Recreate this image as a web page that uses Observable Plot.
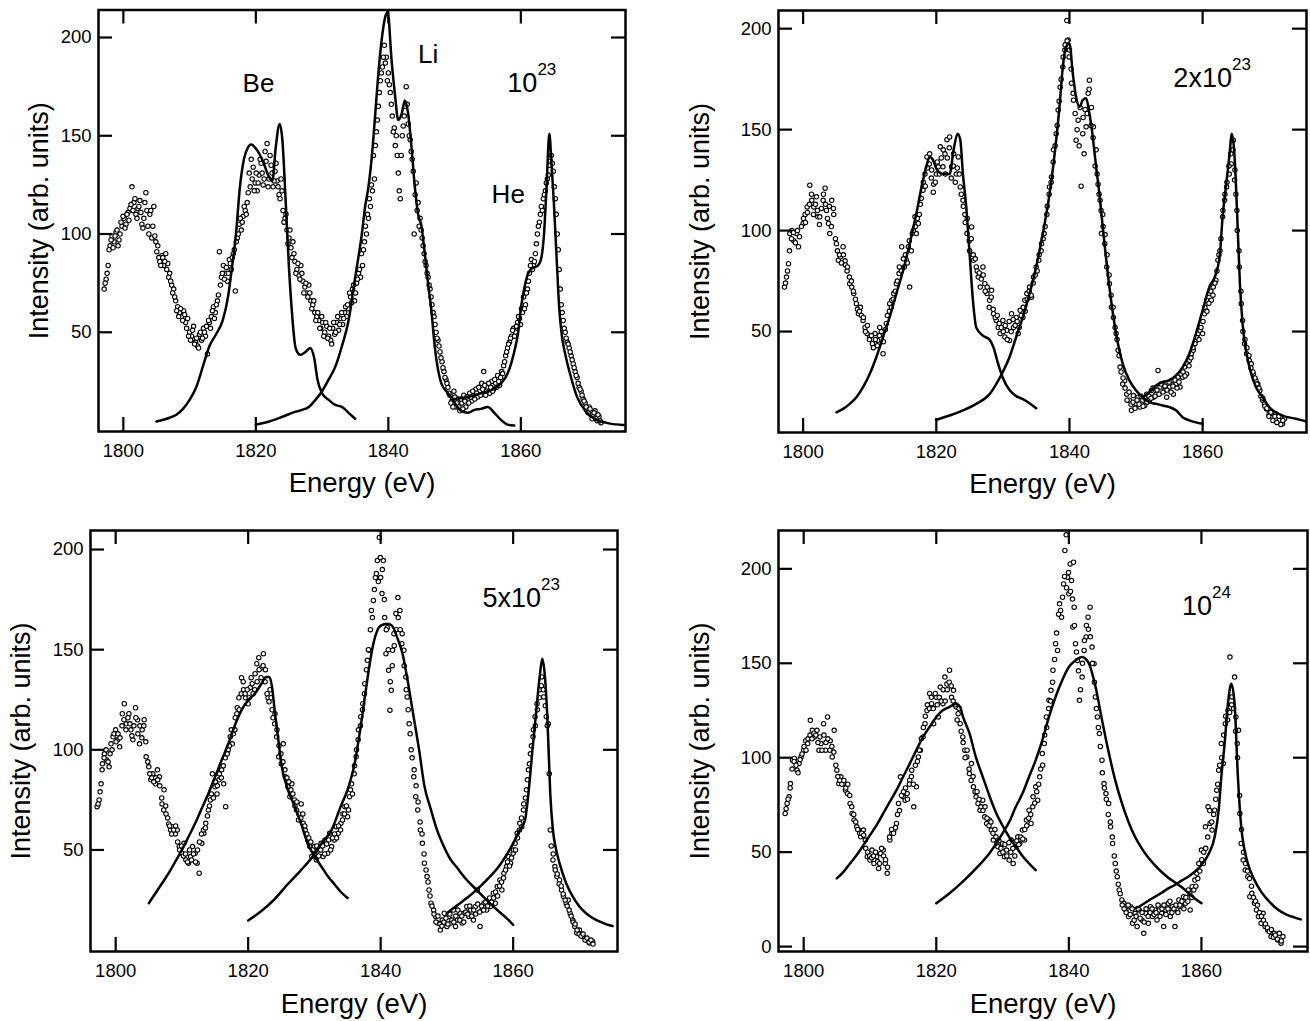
<!DOCTYPE html>
<html><head><meta charset="utf-8">
<script src="https://cdn.jsdelivr.net/npm/d3@7"></script>
<script src="https://cdn.jsdelivr.net/npm/@observablehq/plot@0.6"></script>
<style>
body{margin:0;background:#fff}
#c{position:relative;width:1310px;height:1021px;background:#fff}
.p{position:absolute}
</style>
</head><body><div id="c"></div>
<script>
// ---------- data ----------
const xTicks = [1800, 1820, 1840, 1860];
const yTicks = [50, 100, 150, 200];
const yTicks24 = [0, 50, 100, 150, 200];
const xLabel = "Energy (eV)";
const yLabel = "Intensity (arb. units)";
const ionLabels = ["Be", "Li", "He"];
const densityBase = ["10", "2x10", "5x10", "10"];
const densityExp = ["23", "23", "23", "24"];

// panel 1e23: measured points [energy, intensity]
const dots1 = [[1797.1,72],[1797.4,77],[1797.7,84],[1798,94],[1798.3,99],[1798.6,96],[1798.9,101],[1799.2,94],[1799.5,100],[1799.8,104],[1800.1,108],[1800.4,105],[1800.7,111],[1801,113],[1801.3,124],[1801.6,116],[1801.9,110],[1802.2,113],[1802.5,117],[1802.8,105],[1803.1,108],[1803.4,121],[1803.7,104],[1804,110],[1804.3,98],[1804.6,114],[1804.9,96],[1805.2,94],[1805.5,86],[1805.8,89],[1806.1,84],[1806.4,90],[1806.7,85],[1807,80],[1807.3,74],[1807.6,72],[1807.9,66],[1808.2,63],[1808.5,60],[1808.8,58],[1809.1,61],[1809.4,55],[1809.7,57],[1810,50],[1810.3,48],[1810.6,53],[1810.9,45],[1811.2,43],[1811.5,49],[1811.8,46],[1812.1,52],[1812.4,48],[1812.7,39],[1813,55],[1813.3,58],[1813.6,63],[1813.9,60],[1814.2,66],[1814.5,91],[1814.8,78],[1815.1,84],[1815.4,80],[1815.7,76],[1816,87],[1816.3,82],[1816.6,90],[1816.9,71],[1817.2,98],[1817.5,105],[1817.8,102],[1818.1,109],[1818.4,112],[1818.7,116],[1819,131],[1819.3,138],[1819.6,134],[1819.9,126],[1820.2,122],[1820.5,130],[1820.8,136],[1821.1,125],[1821.4,142],[1821.7,146],[1822,128],[1822.3,135],[1822.6,124],[1822.9,132],[1823.2,127],[1823.5,120],[1823.8,128],[1824.1,112],[1824.4,108],[1824.7,102],[1825,98],[1825.3,93],[1825.6,96],[1825.9,86],[1826.2,82],[1826.5,79],[1826.8,84],[1827.1,76],[1827.4,73],[1827.7,70],[1828,74],[1828.3,66],[1828.6,64],[1828.9,60],[1829.2,58],[1829.5,56],[1829.8,52],[1830.1,55],[1830.4,50],[1830.7,53],[1831,48],[1831.3,46],[1831.6,52],[1831.9,49],[1832.2,55],[1832.5,51],[1832.8,57],[1833.1,54],[1833.4,60],[1833.7,58],[1834,62],[1834.3,68],[1834.6,72],[1834.9,66],[1835.2,75],[1835.5,80],[1835.8,78],[1836.1,84],[1836.4,96],[1836.7,100],[1837,108],[1837.3,114],[1837.6,122],[1837.9,128],[1838.2,152],[1838.5,165],[1838.8,178],[1839.1,185],[1839.4,196],[1839.7,190],[1840,182],[1840.3,172],[1840.6,160],[1840.9,154],[1841.2,150],[1841.5,131],[1841.8,118],[1842.1,150],[1842.4,160],[1842.7,175],[1843,156],[1843.3,148],[1843.6,138],[1843.9,100],[1844.2,126],[1844.5,116],[1844.8,108],[1845.1,98],[1845.4,90],[1845.7,84],[1846,78],[1846.3,72],[1846.6,64],[1846.9,58],[1847.2,50],[1847.5,46],[1847.8,40],[1848.1,35],[1848.4,30],[1848.7,26],[1849,22],[1849.3,18],[1849.6,15],[1849.9,20],[1850.2,12],[1850.5,16],[1850.8,10],[1851.1,14],[1851.4,18],[1851.7,12],[1852,16],[1852.3,19],[1852.6,15],[1852.9,18],[1853.2,21],[1853.5,17],[1853.8,20],[1854.1,24],[1854.4,30],[1854.7,18],[1855,22],[1855.3,19],[1855.6,25],[1855.9,21],[1856.2,24],[1856.5,28],[1856.8,23],[1857.1,30],[1857.4,33],[1857.7,38],[1858,42],[1858.3,45],[1858.6,48],[1858.9,52],[1859.2,50],[1859.5,55],[1859.8,57],[1860.1,62],[1860.4,68],[1860.7,64],[1861,72],[1861.3,80],[1861.6,87],[1861.9,84],[1862.2,90],[1862.5,100],[1862.8,106],[1863.1,114],[1863.4,118],[1863.7,122],[1864,128],[1864.3,135],[1864.6,140],[1864.9,132],[1865.2,118],[1865.5,100],[1865.8,82],[1866.1,64],[1866.4,56],[1866.7,50],[1867,45],[1867.3,42],[1867.6,38],[1867.9,34],[1868.2,30],[1868.5,27],[1868.8,22],[1869.1,20],[1869.4,16],[1869.7,14],[1870,10],[1870.3,12],[1870.6,8],[1870.9,7],[1871.2,10],[1871.5,5],[1871.8,7],[1872.1,4]];
const dots1b = [[1797.25,75],[1797.55,80],[1797.85,92],[1798.15,97],[1798.45,93],[1798.75,99],[1799.05,102],[1799.35,97],[1799.65,106],[1799.95,109],[1800.25,103],[1800.55,110],[1800.85,107],[1801.15,115],[1801.45,112],[1801.75,118],[1802.05,108],[1802.35,114],[1802.65,111],[1802.95,103],[1803.25,116],[1803.55,112],[1803.85,100],[1804.15,112],[1804.45,104],[1804.75,99],[1805.05,91],[1805.35,88],[1805.65,84],[1805.95,88],[1806.25,86],[1806.55,82],[1806.85,78],[1807.15,76],[1807.45,70],[1807.75,68],[1808.05,61],[1808.35,58],[1808.65,62],[1808.95,56],[1809.25,59],[1809.55,52],[1809.85,48],[1810.15,46],[1810.45,51],[1810.75,44],[1811.05,47],[1811.35,42],[1811.65,50],[1811.95,47],[1812.25,50],[1812.55,53],[1812.85,56],[1813.15,52],[1813.45,61],[1813.75,57],[1814.05,64],[1814.35,69],[1814.65,74],[1814.95,80],[1815.25,77],[1815.55,83],[1815.85,80],[1816.15,85],[1816.45,88],[1816.75,92],[1817.05,96],[1817.35,100],[1817.65,108],[1817.95,106],[1818.25,114],[1818.55,110],[1818.85,121],[1819.15,124],[1819.45,128],[1819.75,122],[1820.05,131],[1820.35,126],[1820.65,138],[1820.95,131],[1821.25,128],[1821.55,137],[1821.85,124],[1822.15,140],[1822.45,131],[1822.75,127],[1823.05,136],[1823.35,124],[1823.65,118],[1823.95,122],[1824.25,106],[1824.55,110],[1824.85,95],[1825.15,102],[1825.45,88],[1825.75,90],[1826.05,80],[1826.35,85],[1826.65,77],[1826.95,80],[1827.25,70],[1827.55,75],[1827.85,68],[1828.15,70],[1828.45,62],[1828.75,66],[1829.05,56],[1829.35,60],[1829.65,52],[1829.95,58],[1830.25,48],[1830.55,55],[1830.85,47],[1831.15,52],[1831.45,44],[1831.75,55],[1832.05,50],[1832.35,58],[1832.65,54],[1832.95,60],[1833.25,57],[1833.55,63],[1833.85,64],[1834.15,70],[1834.45,65],[1834.75,74],[1835.05,70],[1835.35,77],[1835.65,82],[1835.95,90],[1836.25,92],[1836.55,104],[1836.85,110],[1837.15,118],[1837.45,125],[1837.75,140],[1838.05,145],[1838.35,158],[1838.65,172],[1838.95,182],[1839.25,190],[1839.55,187],[1839.85,178],[1840.15,176],[1840.45,166],[1840.75,152],[1841.05,145],[1841.35,140],[1841.65,122],[1841.95,140],[1842.25,155],[1842.55,165],[1842.85,166],[1843.15,150],[1843.45,142],[1843.75,132],[1844.05,120],[1844.35,112],[1844.65,104],[1844.95,102],[1845.25,94],[1845.55,86],[1845.85,80],[1846.15,74],[1846.45,68],[1846.75,60],[1847.05,54],[1847.35,47],[1847.65,43],[1847.95,37],[1848.25,32],[1848.55,27],[1848.85,24],[1849.15,19],[1849.45,14],[1849.75,12],[1850.05,17],[1850.35,14],[1850.65,12],[1850.95,16],[1851.25,11],[1851.55,15],[1851.85,17],[1852.15,14],[1852.45,17],[1852.75,20],[1853.05,16],[1853.35,19],[1853.65,22],[1853.95,18],[1854.25,21],[1854.55,23],[1854.85,20],[1855.15,24],[1855.45,22],[1855.75,20],[1856.05,26],[1856.35,22],[1856.65,25],[1856.95,27],[1857.25,29],[1857.55,35],[1857.85,40],[1858.15,44],[1858.45,47],[1858.75,51],[1859.05,48],[1859.35,53],[1859.65,58],[1859.95,54],[1860.25,60],[1860.55,62],[1860.85,70],[1861.15,76],[1861.45,84],[1861.75,82],[1862.05,86],[1862.35,95],[1862.65,104],[1862.95,110],[1863.25,112],[1863.55,120],[1863.85,126],[1864.15,130],[1864.45,137],[1864.75,136],[1865.05,124],[1865.35,110],[1865.65,92],[1865.95,72],[1866.25,60],[1866.55,52],[1866.85,47],[1867.15,44],[1867.45,40],[1867.75,36],[1868.05,32],[1868.35,28],[1868.65,24],[1868.95,21],[1869.25,18],[1869.55,15],[1869.85,12],[1870.15,9],[1870.45,11],[1870.75,6],[1871.05,9],[1871.35,6],[1871.65,8],[1871.95,5]];
const be1 = [[1805,4.6],[1807,6.5],[1808,8],[1809,11],[1810,15.6],[1811,22],[1812,32.5],[1813,43],[1814,49],[1815,56],[1815.8,68],[1816.4,83],[1817,100],[1817.6,124],[1818.2,138],[1818.8,144],[1819.3,145.5],[1820,143.5],[1821,137.6],[1822,129],[1822.5,127],[1823,144],[1823.6,156],[1824,148],[1824.5,117],[1825,83],[1825.5,58],[1826,42],[1826.7,38.5],[1827.5,40],[1828.2,42],[1828.8,37],[1829.3,26],[1830,19],[1831,15.6],[1832,13],[1833,12],[1834,9],[1835,6]];
const li1 = [[1820,3],[1822,4.6],[1824,7],[1826,9.6],[1827,10.5],[1828,12],[1829,15.6],[1830,20],[1831,26],[1832,32.5],[1833,43],[1834,56],[1835,78],[1836,100],[1836.5,114],[1837,124],[1837.5,139],[1838,160],[1838.5,182],[1839,199],[1839.5,210],[1839.9,213],[1840.5,188],[1841,171],[1841.5,158],[1842,161],[1842.5,168],[1843,161],[1843.5,144],[1844,124],[1844.5,110],[1845,104],[1845.5,90],[1846,75],[1846.5,61],[1847,43],[1847.5,31],[1848,24],[1849,19],[1850,14],[1851,10],[1852,9],[1853,10.5],[1854,11],[1855,12],[1856,9],[1857,5.4],[1858,3],[1859,2.5]];
const he1 = [[1850,16],[1852,17],[1854,19],[1855.5,20.5],[1857,24],[1858,29],[1859,40],[1859.6,50],[1860,62],[1860.5,72],[1861,79],[1861.5,82],[1862,83],[1862.6,84],[1863.1,88],[1863.5,100],[1863.9,125],[1864.3,151],[1864.6,138],[1865,115],[1865.4,88],[1865.8,62],[1866.2,48],[1866.7,39],[1867.5,28],[1868.5,17],[1870,9],[1871.8,5],[1873.5,3.5],[1875.5,2.8]];

// panel 2e23
const dots2 = [[1797.2,72],[1797.5,77],[1797.8,83.6],[1798,98.5],[1798.3,100],[1798.6,95],[1799,98.5],[1799.3,92],[1800,103.5],[1800.3,108],[1800.6,111.7],[1801,122.5],[1801.3,115],[1801.6,111.7],[1802,116.7],[1802.2,106.8],[1802.5,106.8],[1803,115],[1803.3,121],[1803.5,110],[1803.8,103.5],[1804,98.5],[1804.3,115],[1804.6,108],[1805,93.5],[1805.3,85.3],[1805.6,87],[1806,92],[1806.3,85],[1806.6,80],[1807,73.7],[1807.3,72],[1807.6,68.8],[1808,63.8],[1808.3,58.8],[1808.6,62],[1809,55.5],[1809.3,52],[1809.6,49],[1810,47.3],[1810.4,44],[1810.8,49],[1811.2,45.6],[1811.5,52],[1812,39],[1812.5,54],[1813,63.8],[1813.3,65.5],[1813.6,68.8],[1814,73.7],[1814.4,78.7],[1814.8,92],[1815.2,82],[1815.5,85.3],[1815.8,92],[1816,72],[1816.4,98.5],[1816.8,106.8],[1817,98.5],[1817.3,103.5],[1817.6,113],[1818,120],[1818.3,128],[1818.6,136.5],[1819,138],[1819.3,130],[1819.6,123],[1820,128],[1820.3,131.6],[1820.6,141.5],[1821,131.6],[1821.3,138],[1821.6,145],[1822,146.4],[1822.3,131.6],[1822.6,138],[1823,128],[1823.3,136.5],[1823.6,121.6],[1824,115],[1824.3,108],[1824.6,98.5],[1825,90],[1825.3,101.8],[1825.6,85.3],[1826,82],[1826.3,77],[1826.6,72],[1827,82],[1827.3,73.7],[1827.6,68.8],[1828,65.5],[1828.3,70.4],[1828.6,58.8],[1829,55.5],[1829.3,52],[1829.6,49],[1830,55.5],[1830.3,47.3],[1830.6,50.6],[1831,45.6],[1831.3,58.8],[1831.6,52],[1832,57],[1832.3,49],[1832.6,60.5],[1833,57],[1833.3,65.5],[1833.6,68.8],[1834,72],[1834.3,67],[1834.6,77],[1835,82],[1835.4,85.3],[1835.8,93.5],[1836.2,98.5],[1836.6,108],[1837,121.6],[1837.3,126.6],[1837.6,140],[1838,148],[1838.3,159.7],[1838.6,171],[1839,181],[1839.3,189.4],[1839.6,204],[1839.8,194.4],[1840,189.4],[1840.3,173],[1840.6,164.6],[1841,144.8],[1841.3,154.7],[1841.6,161],[1842,148],[1842.2,138],[1842.5,151.4],[1842.8,168],[1843,174.5],[1843.3,161],[1843.6,151.4],[1844,140],[1844.3,123],[1844.6,115],[1844.8,98.5],[1845,108],[1845.3,93.5],[1845.6,82],[1846,73.7],[1846.3,62],[1846.6,57],[1847,49],[1847.3,40.7],[1847.6,32.4],[1848,24],[1848.3,25.8],[1848.6,19],[1849,16],[1849.3,11],[1849.6,18.3],[1850,14.2],[1850.3,17.5],[1850.6,12.6],[1851,16],[1851.3,13.4],[1851.6,19],[1852,16],[1852.3,20.8],[1852.6,17.5],[1853,19],[1853.3,30.7],[1853.6,22.5],[1854,24],[1854.3,20.8],[1854.6,17.5],[1855,22.5],[1855.3,25.8],[1855.6,19],[1856,24],[1856.3,27.4],[1856.6,22.5],[1857,27.4],[1857.3,32.4],[1857.6,29],[1858,35.7],[1858.3,39],[1858.6,40.7],[1859,45.6],[1859.3,49],[1859.6,50.6],[1860,49],[1860.3,58.8],[1860.6,65.5],[1861,68.8],[1861.3,65.5],[1861.6,72],[1862,75.4],[1862.3,85.3],[1862.6,90],[1863,106.8],[1863.3,115],[1863.6,121.6],[1864,128],[1864.3,133],[1864.6,144.8],[1864.8,125],[1865,118],[1865.2,100],[1865.5,82],[1865.8,63.8],[1866,55.5],[1866.3,44],[1866.6,39],[1867,35.7],[1867.3,34],[1867.6,29],[1868,25.8],[1868.3,24],[1868.6,20.8],[1869,16],[1869.3,14.2],[1869.6,11.7],[1870,9.3],[1870.5,7.6],[1871,9.3],[1871.5,6],[1872,4.3],[1872.3,6.8]];
const dots2b = [[1797.35,74],[1797.65,80],[1797.95,90],[1798.25,96],[1798.55,99],[1798.85,94],[1799.15,100],[1799.45,97],[1799.75,102],[1800.05,106],[1800.35,104],[1800.65,109],[1800.95,113],[1801.25,118],[1801.55,108],[1801.85,113],[1802.15,110],[1802.45,103],[1802.75,111],[1803.05,118],[1803.35,113],[1803.65,106],[1803.95,112],[1804.25,102],[1804.55,111],[1804.85,96],[1805.15,90],[1805.45,88],[1805.75,84],[1806.05,88],[1806.35,83],[1806.65,82],[1806.95,77],[1807.25,75],[1807.55,70],[1807.85,66],[1808.15,61],[1808.45,60],[1808.75,58],[1809.05,57],[1809.35,50],[1809.65,53],[1809.95,46],[1810.25,48],[1810.55,42],[1810.85,46],[1811.15,43],[1811.45,48],[1811.75,50],[1812.05,45],[1812.35,51],[1812.65,58],[1812.95,60],[1813.25,62],[1813.55,66],[1813.85,70],[1814.15,75],[1814.45,82],[1814.75,80],[1815.05,86],[1815.35,88],[1815.65,84],[1815.95,95],[1816.25,90],[1816.55,100],[1816.85,102],[1817.15,106],[1817.45,108],[1817.75,116],[1818.05,124],[1818.35,122],[1818.65,131],[1818.95,133],[1819.25,126],[1819.55,119],[1819.85,124],[1820.15,134],[1820.45,128],[1820.75,136],[1821.05,140],[1821.35,128],[1821.65,136],[1821.95,141],[1822.25,126],[1822.55,132],[1822.85,124],[1823.15,131],[1823.45,128],[1823.75,118],[1824.05,112],[1824.35,104],[1824.65,106],[1824.95,95],[1825.25,96],[1825.55,88],[1825.85,86],[1826.15,80],[1826.45,79],[1826.75,76],[1827.05,78],[1827.35,70],[1827.65,72],[1827.95,62],[1828.25,67],[1828.55,61],[1828.85,57],[1829.15,58],[1829.45,54],[1829.75,52],[1830.05,50],[1830.35,53],[1830.65,46],[1830.95,55],[1831.25,50],[1831.55,56],[1831.85,53],[1832.15,55],[1832.45,52],[1832.75,58],[1833.05,62],[1833.35,60],[1833.65,66],[1833.95,70],[1834.25,68],[1834.55,74],[1834.85,78],[1835.15,80],[1835.45,88],[1835.75,90],[1836.05,96],[1836.35,102],[1836.65,112],[1836.95,118],[1837.25,124],[1837.55,134],[1837.85,142],[1838.15,152],[1838.45,164],[1838.75,175],[1839.05,186],[1839.35,192],[1839.65,194],[1839.95,186],[1840.25,180],[1840.55,168],[1840.85,158],[1841.15,150],[1841.45,142],[1841.75,122],[1842.05,156],[1842.35,160],[1842.65,158],[1842.95,170],[1843.25,152],[1843.55,146],[1843.85,132],[1844.15,128],[1844.45,118],[1844.75,110],[1845.05,102],[1845.35,98],[1845.65,88],[1845.95,78],[1846.25,68],[1846.55,62],[1846.85,52],[1847.15,46],[1847.45,38],[1847.75,30],[1848.05,27],[1848.35,22],[1848.65,16],[1848.95,20],[1849.25,14],[1849.55,15],[1849.85,12],[1850.15,16],[1850.45,14],[1850.75,18],[1851.05,13],[1851.35,17],[1851.65,15],[1851.95,18],[1852.25,17],[1852.55,22],[1852.85,18],[1853.15,21],[1853.45,19],[1853.75,24],[1854.05,20],[1854.35,23],[1854.65,21],[1854.95,25],[1855.25,20],[1855.55,23],[1855.85,26],[1856.15,22],[1856.45,25],[1856.75,29],[1857.05,30],[1857.35,28],[1857.65,34],[1857.95,33],[1858.25,37],[1858.55,42],[1858.85,44],[1859.15,47],[1859.45,46],[1859.75,52],[1860.05,55],[1860.35,62],[1860.65,60],[1860.95,64],[1861.25,70],[1861.55,68],[1861.85,74],[1862.15,80],[1862.45,88],[1862.75,96],[1863.05,110],[1863.35,118],[1863.65,124],[1863.95,132],[1864.25,138],[1864.55,140],[1864.85,130],[1865.15,110],[1865.45,90],[1865.75,70],[1866.05,50],[1866.35,46],[1866.65,42],[1866.95,38],[1867.25,32],[1867.55,30],[1867.85,27],[1868.15,24],[1868.45,22],[1868.75,18],[1869.05,17],[1869.35,13],[1869.65,12],[1869.95,8],[1870.25,10],[1870.55,6],[1870.85,8],[1871.15,5],[1871.45,8],[1871.75,4],[1872.05,6]];
const be2 = [[1805,10],[1806,11.7],[1807,14.2],[1808,17.5],[1809,22.5],[1810,29],[1811,37.4],[1812,47.3],[1813,57.2],[1814,68.8],[1815,80],[1816,93.5],[1817,108.4],[1818,125],[1818.5,131.6],[1819,136.5],[1819.5,135],[1820,130.7],[1821,128],[1822,128],[1822.6,140],[1823.2,148],[1823.6,145],[1824,128],[1824.5,111.7],[1825,88.6],[1825.5,65.5],[1826,52],[1827,48],[1828,46],[1828.6,42],[1829.2,35],[1830,27],[1831,21],[1832,18],[1833,16.5],[1834,14.5],[1835,12]];
const li2 = [[1820,6.3],[1822,8.4],[1824,11],[1826,14.2],[1828,19],[1829,24],[1830,30],[1831,37.4],[1832,47.3],[1833,57.2],[1834,68.8],[1835,82],[1836,98.5],[1837,118],[1838,144.8],[1838.5,161.3],[1839,181],[1839.5,191],[1840,192.7],[1840.5,177.8],[1841,166],[1841.5,161.3],[1842,164.6],[1842.5,165.5],[1843,158],[1843.5,146.4],[1844,131.6],[1844.5,118],[1845,101.8],[1846,72],[1847,49],[1848,34],[1849,25.8],[1850,20.8],[1851,17.5],[1852,15],[1853,14.2],[1854,13.4],[1855,12.6],[1856,11],[1857,7.6],[1858,6],[1859,5],[1860,4.3]];
const he2 = [[1851,17.5],[1852,20],[1853,23.3],[1854,25],[1855,25.8],[1856,28.3],[1857,32.4],[1858,39],[1859,49],[1860,60.5],[1861,72],[1862,78.7],[1862.6,88.6],[1863,106.8],[1863.5,121.6],[1864,136.5],[1864.4,148],[1864.8,136.5],[1865.2,106.8],[1865.6,73.7],[1866,54],[1866.6,39],[1867.3,29],[1868,22.5],[1869,17.5],[1870,12.6],[1872,8.4],[1874,6.8],[1875.5,5.6]];

// panel 5e23
const dots5 = [[1797.2,71.6],[1797.5,75],[1797.8,83],[1798,93],[1798.3,98],[1798.6,95],[1799,91.5],[1799.3,103],[1799.6,106.5],[1800,110],[1800.3,105],[1800.6,101.5],[1801,118],[1801.3,123],[1801.6,113],[1802,118],[1802.3,110],[1802.6,105],[1803,121],[1803.3,115],[1803.6,103],[1804,110],[1804.3,115],[1804.6,96.5],[1805,91.5],[1805.3,85],[1805.6,88],[1806,83],[1806.3,90],[1806.6,86.5],[1807,73],[1807.3,80],[1807.6,68],[1808,63],[1808.3,60],[1808.6,61.6],[1809,58],[1809.3,60],[1809.6,51.7],[1810,48.3],[1810.3,53.3],[1810.6,45],[1811,43.4],[1811.3,46.7],[1811.6,51.7],[1812,48.3],[1812.3,43.4],[1812.6,38.4],[1813,53.3],[1813.3,58.3],[1813.6,63.3],[1814,70],[1814.3,75],[1814.6,88],[1815,81.5],[1815.3,78],[1815.6,85],[1816,90],[1816.3,83],[1816.6,71.6],[1817,100],[1817.3,106.5],[1817.6,103],[1818,110],[1818.3,118],[1818.6,126],[1819,136],[1819.3,130],[1819.6,126],[1820,123],[1820.3,131],[1820.6,133],[1821,130],[1821.3,143],[1821.6,146],[1822,141],[1822.3,148],[1822.6,140],[1823,126],[1823.3,130],[1823.6,120],[1824,113],[1824.3,106.5],[1824.6,96.5],[1825,93],[1825.3,103],[1825.6,86.5],[1826,81.5],[1826.3,76.6],[1826.6,83],[1827,75],[1827.3,70],[1827.6,65],[1828,73],[1828.3,63.3],[1828.6,60],[1829,55],[1829.3,51.7],[1829.6,46.7],[1830,51.7],[1830.3,45],[1830.6,50],[1831,53.3],[1831.3,46.7],[1831.6,55],[1832,48.3],[1832.3,58.3],[1832.6,51.7],[1833,55],[1833.3,61.6],[1833.6,58.3],[1834,63.3],[1834.3,68],[1834.6,71.6],[1835,66.6],[1835.3,76.6],[1835.6,83],[1836,88],[1836.3,96.5],[1836.6,105],[1837,116.5],[1837.3,123],[1837.6,133],[1838,144.7],[1838.3,149.7],[1838.6,169.6],[1838.9,174.6],[1839.2,186],[1839.5,194.5],[1839.8,206],[1840,186],[1840.2,178],[1840.4,194.5],[1840.6,166],[1840.8,148],[1841,161],[1841.2,139.7],[1841.4,119.8],[1841.6,129.7],[1841.8,149.7],[1842,158],[1842.3,168],[1842.6,176],[1842.9,169.6],[1843.2,153],[1843.5,149.7],[1843.8,136.4],[1844,126.4],[1844.3,113],[1844.6,100],[1845,86.5],[1845.3,76.6],[1845.6,70],[1846,60],[1846.3,53.3],[1846.6,43.4],[1847,36.7],[1847.3,30],[1847.6,23.4],[1848,20],[1848.3,16.8],[1848.6,13.5],[1849,10],[1849.3,15],[1849.6,18.4],[1850,11.8],[1850.3,16.8],[1850.6,13.5],[1851,20],[1851.3,11.8],[1851.6,15],[1852,18.4],[1852.3,13.5],[1852.6,18.4],[1853,21.8],[1853.3,16.8],[1853.6,20],[1854,15],[1854.3,21.8],[1854.6,30],[1855,11.8],[1855.3,20],[1855.6,23.4],[1856,20],[1856.3,25],[1856.6,21.8],[1857,28.4],[1857.3,23.4],[1857.6,31.7],[1858,35],[1858.3,30],[1858.6,38.4],[1859,41.7],[1859.3,46.7],[1859.6,43.4],[1860,48.3],[1860.3,53.3],[1860.6,58.3],[1861,63.3],[1861.3,61.6],[1861.6,73],[1862,80],[1862.3,90],[1862.6,98],[1863,106.5],[1863.3,116.5],[1863.6,123],[1864,130],[1864.3,136.4],[1864.6,126.4],[1865,116.5],[1865.3,113],[1865.6,60],[1866,45],[1866.3,41.7],[1866.6,36.7],[1867,35],[1867.3,30],[1867.6,26.7],[1868,23.4],[1868.3,25],[1868.6,18.4],[1869,15],[1869.3,11.8],[1869.6,8.5],[1870,10],[1870.5,6.8],[1871,5],[1871.5,3.5],[1872,4.3]];
const dots5b = [[1797.35,73],[1797.65,79],[1797.95,90],[1798.25,96],[1798.55,100],[1798.85,94],[1799.15,98],[1799.45,100],[1799.75,108],[1800.05,104],[1800.35,108],[1800.65,106],[1800.95,112],[1801.25,115],[1801.55,110],[1801.85,116],[1802.15,113],[1802.45,107],[1802.75,112],[1803.05,116],[1803.35,108],[1803.65,112],[1803.95,106],[1804.25,112],[1804.55,104],[1804.85,94],[1805.15,88],[1805.45,86],[1805.75,84],[1806.05,86],[1806.35,85],[1806.65,82],[1806.95,76],[1807.25,70],[1807.55,72],[1807.85,66],[1808.15,62],[1808.45,58],[1808.75,60],[1809.05,62],[1809.35,54],[1809.65,50],[1809.95,52],[1810.25,47],[1810.55,48],[1810.85,44],[1811.15,50],[1811.45,45],[1811.75,48],[1812.05,44],[1812.35,50],[1812.65,54],[1812.95,58],[1813.25,60],[1813.55,61],[1813.85,67],[1814.15,72],[1814.45,78],[1814.75,76],[1815.05,84],[1815.35,82],[1815.65,88],[1815.95,86],[1816.25,92],[1816.55,96],[1816.85,98],[1817.15,102],[1817.45,110],[1817.75,108],[1818.05,116],[1818.35,121],[1818.65,120],[1818.95,128],[1819.25,134],[1819.55,128],[1819.85,130],[1820.15,126],[1820.45,136],[1820.75,128],[1821.05,138],[1821.35,134],[1821.65,140],[1821.95,136],[1822.25,142],[1822.55,134],[1822.85,128],[1823.15,124],[1823.45,126],[1823.75,116],[1824.05,118],[1824.35,110],[1824.65,102],[1824.95,98],[1825.25,94],[1825.55,90],[1825.85,86],[1826.15,84],[1826.45,80],[1826.75,78],[1827.05,72],[1827.35,74],[1827.65,68],[1827.95,66],[1828.25,68],[1828.55,62],[1828.85,58],[1829.15,56],[1829.45,54],[1829.75,50],[1830.05,48],[1830.35,52],[1830.65,47],[1830.95,50],[1831.25,52],[1831.55,48],[1831.85,53],[1832.15,55],[1832.45,50],[1832.75,56],[1833.05,58],[1833.35,56],[1833.65,62],[1833.95,60],[1834.25,65],[1834.55,68],[1834.85,72],[1835.15,70],[1835.45,80],[1835.75,78],[1836.05,92],[1836.35,100],[1836.65,110],[1836.95,112],[1837.25,120],[1837.55,128],[1837.85,140],[1838.15,150],[1838.45,160],[1838.75,166],[1839.05,180],[1839.35,188],[1839.65,184],[1839.95,196],[1840.25,190],[1840.55,175],[1840.85,160],[1841.15,150],[1841.45,134],[1841.75,142],[1842.05,152],[1842.35,160],[1842.65,166],[1842.95,160],[1843.25,158],[1843.55,142],[1843.85,130],[1844.15,120],[1844.45,108],[1844.75,96],[1845.05,90],[1845.35,82],[1845.65,74],[1845.95,64],[1846.25,58],[1846.55,48],[1846.85,40],[1847.15,34],[1847.45,27],[1847.75,22],[1848.05,18],[1848.35,14],[1848.65,17],[1848.95,13],[1849.25,12],[1849.55,14],[1849.85,16],[1850.15,13],[1850.45,18],[1850.75,15],[1851.05,14],[1851.35,17],[1851.65,20],[1851.95,15],[1852.25,17],[1852.55,14],[1852.85,19],[1853.15,18],[1853.45,22],[1853.75,17],[1854.05,20],[1854.35,18],[1854.65,23],[1854.95,19],[1855.25,22],[1855.55,20],[1855.85,24],[1856.15,22],[1856.45,26],[1856.75,24],[1857.05,26],[1857.35,29],[1857.65,27],[1857.95,32],[1858.25,34],[1858.55,36],[1858.85,40],[1859.15,44],[1859.45,42],[1859.75,46],[1860.05,50],[1860.35,50],[1860.65,56],[1860.95,60],[1861.25,66],[1861.55,70],[1861.85,76],[1862.15,85],[1862.45,93],[1862.75,102],[1863.05,110],[1863.35,112],[1863.65,120],[1863.95,126],[1864.25,132],[1864.55,130],[1864.85,122],[1865.15,112],[1865.45,88],[1865.75,52],[1866.05,48],[1866.35,40],[1866.65,38],[1866.95,33],[1867.25,32],[1867.55,28],[1867.85,25],[1868.15,22],[1868.45,20],[1868.75,17],[1869.05,14],[1869.35,13],[1869.65,10],[1869.95,8],[1870.25,7],[1870.55,8],[1870.85,5],[1871.15,6],[1871.45,4],[1871.75,5],[1872.05,3]];
const be5 = [[1805,23.4],[1806,28.4],[1807,33.4],[1808,38.4],[1809,44.2],[1810,50],[1811,56.6],[1812,63.3],[1813,70.8],[1814,78.2],[1815,86.5],[1816,94.9],[1817,103],[1818,112.3],[1819,119.8],[1820,124.8],[1821,128],[1822,133],[1822.7,136.4],[1823.2,136.4],[1823.6,131.4],[1824,119.8],[1824.5,106.5],[1825,93],[1826,80],[1827,72],[1828,63],[1829,53],[1830,47],[1831,42],[1832,37],[1833,33],[1834,29],[1835,26]];
const li5 = [[1820,14.8],[1822,19.5],[1824,25.5],[1826,33],[1828,40],[1829.8,47],[1831,53],[1832.6,60],[1834,72],[1835,80],[1836,92],[1837,112],[1837.6,126],[1838.3,142],[1838.9,153],[1840,162],[1841,163],[1841.7,162],[1842.5,156],[1843.3,148],[1844,136],[1844.5,126],[1845,116],[1845.8,100],[1846.6,82],[1847.6,70],[1848.5,60],[1849.5,52],[1850.5,45.5],[1851.4,41.7],[1853,35],[1854.5,30],[1856,25],[1857.6,20],[1859,16],[1860,12.6]];
const he5 = [[1850,18.4],[1851,21],[1852,23.4],[1853,26],[1854,28.7],[1855,31.7],[1856,35],[1857,38.4],[1858,42.5],[1859,47.5],[1860,53.3],[1861,60],[1861.8,65],[1862.2,75],[1863,103],[1863.5,119.8],[1864,136.4],[1864.4,145.5],[1864.8,136.4],[1865.2,113],[1865.6,78.2],[1866,60],[1866.5,50],[1867,43.4],[1868,33.4],[1869,26.7],[1870,21.8],[1871,18.4],[1872,16],[1873,14.3],[1874,13],[1875,12]];

// panel 1e24
const dots24 = [[1797.2,70.5],[1797.5,75.8],[1797.8,79.3],[1798,86.3],[1798.3,98.7],[1798.6,99.6],[1799,93.4],[1799.3,96.9],[1799.6,100.4],[1800,104],[1800.3,109],[1800.6,107.5],[1801,119.8],[1801.3,114.5],[1801.6,111],[1802,114.5],[1802.3,104],[1802.6,107.5],[1803,118],[1803.3,104],[1803.6,121.6],[1804,109],[1804.3,100.4],[1804.6,114.5],[1805,93.4],[1805.3,86.3],[1805.6,89.9],[1806,86.3],[1806.3,82.8],[1806.6,81],[1807,75.8],[1807.3,70.5],[1807.6,67],[1808,63.4],[1808.3,61.7],[1808.6,58.1],[1809,61.7],[1809.3,56.4],[1809.6,47.6],[1810,45.8],[1810.3,51.1],[1810.6,44],[1811,47.6],[1811.3,41.4],[1811.6,49.3],[1812,51.1],[1812.3,44],[1812.6,38.8],[1813,56.4],[1813.3,59.9],[1813.6,61.7],[1814,65.2],[1814.3,75.8],[1814.6,89.9],[1815,79.3],[1815.3,77.5],[1815.6,81],[1816,88.1],[1816.3,93.4],[1816.6,74],[1817,84.6],[1817.3,100.4],[1817.6,104],[1818,111],[1818.3,118],[1818.6,125],[1819,134],[1819.3,128.6],[1819.6,118],[1820,132],[1820.3,121.6],[1820.6,137.4],[1821,128.6],[1821.3,142.7],[1821.6,139],[1822,146.3],[1822.3,132],[1822.6,135.7],[1823,126.9],[1823.3,123.3],[1823.6,118],[1824,111],[1824.3,104],[1824.6,100.4],[1825,91.6],[1825.3,96.9],[1825.6,84.6],[1826,79.3],[1826.3,75.8],[1826.6,72.2],[1827,77.5],[1827.3,68.7],[1827.6,65.2],[1828,67],[1828.3,61.7],[1828.6,56.4],[1829,58.1],[1829.3,52.9],[1829.6,49.3],[1830,54.6],[1830.3,47.6],[1830.6,51.1],[1831,45.8],[1831.3,56.4],[1831.6,44],[1832,52.9],[1832.3,58.1],[1832.6,54.6],[1833,61.7],[1833.3,56.4],[1833.6,67],[1834,72.2],[1834.3,65.2],[1834.6,79.3],[1835,84.6],[1835.3,77.5],[1835.6,89.9],[1836,102.2],[1836.3,107.5],[1836.6,121.6],[1837,130.4],[1837.3,135.7],[1837.6,146.3],[1838,160.4],[1838.3,156.8],[1838.6,181.5],[1838.9,174.4],[1839.2,192],[1839.4,209.7],[1839.6,218],[1839.8,195.6],[1840,186.8],[1840.2,202.6],[1840.4,193.8],[1840.6,169.2],[1840.7,203.5],[1840.8,179.7],[1841,160.4],[1841.3,151.5],[1841.6,130.4],[1842,142.7],[1842.3,156.8],[1842.6,163.9],[1842.9,174.4],[1843.2,179.7],[1843.5,158.6],[1843.8,149.8],[1844,132.2],[1844.3,121.6],[1844.6,112.8],[1845,98.7],[1845.3,86.3],[1845.6,81],[1846,75.8],[1846.3,63.4],[1846.6,54.6],[1847,44],[1847.3,37],[1847.6,30],[1848,24.7],[1848.3,22.9],[1848.6,19.4],[1849,15.9],[1849.3,21.1],[1849.6,12.3],[1850,17.6],[1850.3,10.6],[1850.6,19.4],[1851,14.1],[1851.3,7],[1851.6,17.6],[1852,12.3],[1852.3,21.1],[1852.6,15.9],[1853,19.4],[1853.3,14.1],[1853.6,21.1],[1854,17.6],[1854.3,10.6],[1854.6,19.4],[1855,22.9],[1855.3,15.9],[1855.6,21.1],[1856,10.6],[1856.3,19.4],[1856.6,24.7],[1857,21.1],[1857.3,26.4],[1857.6,22.9],[1858,30],[1858.3,19.4],[1858.6,31.7],[1859,35.2],[1859.3,38.8],[1859.6,44],[1860,51.1],[1860.3,44],[1860.6,63.4],[1861,74],[1861.3,65.2],[1861.6,61.7],[1862,72.2],[1862.3,82.8],[1862.6,93.4],[1863,107.5],[1863.3,96.9],[1863.6,118],[1864,125],[1864.3,153.3],[1864.6,132.2],[1865,142.7],[1865.2,121.6],[1865.4,107.5],[1865.6,114.5],[1865.8,70.5],[1866,54.6],[1866.3,45.8],[1866.6,40.5],[1867,37],[1867.3,26.4],[1867.6,28.2],[1868,22.9],[1868.3,19.4],[1868.6,15.9],[1869,12.3],[1869.3,17.6],[1869.6,10.6],[1870,8.8],[1870.5,5.3],[1871,7],[1871.5,3.5],[1872,1.8],[1872.3,5.3]];
const dots24b = [[1797.35,73],[1797.65,78],[1797.95,84],[1798.25,94],[1798.55,98],[1798.85,96],[1799.15,92],[1799.45,99],[1799.75,102],[1800.05,106],[1800.35,104],[1800.65,110],[1800.95,112],[1801.25,110],[1801.55,113],[1801.85,112],[1802.15,108],[1802.45,111],[1802.75,104],[1803.05,112],[1803.35,108],[1803.65,110],[1803.95,104],[1804.25,106],[1804.55,103],[1804.85,96],[1805.15,90],[1805.45,88],[1805.75,86],[1806.05,88],[1806.35,84],[1806.65,86],[1806.95,80],[1807.25,74],[1807.55,70],[1807.85,66],[1808.15,62],[1808.45,60],[1808.75,60],[1809.05,59],[1809.35,52],[1809.65,50],[1809.95,48],[1810.25,47],[1810.55,48],[1810.85,50],[1811.15,45],[1811.45,44],[1811.75,52],[1812.05,48],[1812.35,46],[1812.65,42],[1812.95,58],[1813.25,62],[1813.55,60],[1813.85,63],[1814.15,70],[1814.45,72],[1814.75,80],[1815.05,82],[1815.35,84],[1815.65,78],[1815.95,86],[1816.25,90],[1816.55,86],[1816.85,96],[1817.15,98],[1817.45,104],[1817.75,110],[1818.05,116],[1818.35,122],[1818.65,128],[1818.95,126],[1819.25,132],[1819.55,126],[1819.85,134],[1820.15,128],[1820.45,132],[1820.75,130],[1821.05,136],[1821.35,130],[1821.65,136],[1821.95,140],[1822.25,138],[1822.55,130],[1822.85,128],[1823.15,120],[1823.45,126],[1823.75,114],[1824.05,108],[1824.35,100],[1824.65,104],[1824.95,94],[1825.25,88],[1825.55,90],[1825.85,82],[1826.15,82],[1826.45,78],[1826.75,74],[1827.05,72],[1827.35,74],[1827.65,68],[1827.95,64],[1828.25,66],[1828.55,60],[1828.85,62],[1829.15,55],[1829.45,56],[1829.75,52],[1830.05,50],[1830.35,54],[1830.65,48],[1830.95,55],[1831.25,50],[1831.55,52],[1831.85,48],[1832.15,56],[1832.45,54],[1832.75,58],[1833.05,57],[1833.35,62],[1833.65,64],[1833.95,68],[1834.25,70],[1834.55,74],[1834.85,76],[1835.15,82],[1835.45,86],[1835.75,94],[1836.05,96],[1836.35,112],[1836.65,116],[1836.95,126],[1837.25,130],[1837.55,140],[1837.85,152],[1838.15,166],[1838.45,176],[1838.75,178],[1839.05,185],[1839.35,196],[1839.65,190],[1839.95,198],[1840.25,188],[1840.55,184],[1840.85,170],[1841.15,156],[1841.45,146],[1841.75,136],[1842.05,150],[1842.35,162],[1842.65,170],[1842.95,168],[1843.25,164],[1843.55,150],[1843.85,140],[1844.15,126],[1844.45,116],[1844.75,106],[1845.05,92],[1845.35,84],[1845.65,78],[1845.95,70],[1846.25,66],[1846.55,58],[1846.85,48],[1847.15,40],[1847.45,33],[1847.75,28],[1848.05,22],[1848.35,20],[1848.65,18],[1848.95,22],[1849.25,17],[1849.55,20],[1849.85,14],[1850.15,16],[1850.45,20],[1850.75,15],[1851.05,18],[1851.35,13],[1851.65,20],[1851.95,16],[1852.25,18],[1852.55,20],[1852.85,17],[1853.15,18],[1853.45,22],[1853.75,16],[1854.05,20],[1854.35,22],[1854.65,17],[1854.95,20],[1855.25,24],[1855.55,18],[1855.85,20],[1856.15,22],[1856.45,18],[1856.75,22],[1857.05,24],[1857.35,20],[1857.65,26],[1857.95,24],[1858.25,28],[1858.55,26],[1858.85,30],[1859.15,32],[1859.45,36],[1859.75,40],[1860.05,46],[1860.35,50],[1860.65,52],[1860.95,58],[1861.25,72],[1861.55,66],[1861.85,70],[1862.15,78],[1862.45,86],[1862.75,96],[1863.05,100],[1863.35,112],[1863.65,122],[1863.95,120],[1864.25,124],[1864.55,128],[1864.85,126],[1865.15,114],[1865.45,100],[1865.75,80],[1866.05,62],[1866.35,50],[1866.65,44],[1866.95,40],[1867.25,36],[1867.55,32],[1867.85,26],[1868.15,24],[1868.45,22],[1868.75,18],[1869.05,16],[1869.35,14],[1869.65,12],[1869.95,10],[1870.25,8],[1870.55,9],[1870.85,5],[1871.15,6],[1871.45,4],[1871.75,7],[1872.05,3]];
const be24 = [[1805,36.1],[1806,39.6],[1807,44],[1808,48.5],[1809,53.7],[1810,59],[1811,64.3],[1812,70.5],[1813,76.7],[1814,82.8],[1815,89.9],[1816,96.9],[1817,104],[1818,111],[1819,116.3],[1820,121.6],[1821,125.1],[1822,126.9],[1823,128.6],[1823.6,126.9],[1824,122],[1825,113],[1826,100],[1827,90],[1828,80],[1829,71],[1830,64],[1831,58],[1832,53],[1833,48],[1834,44],[1835,40.5]];
const li24 = [[1820,22.9],[1822,28.2],[1824,34.4],[1826,41.4],[1828,49.3],[1830,59.9],[1831,66],[1832,74],[1833,81],[1834,89.9],[1835,98.7],[1836,109.3],[1837,121.6],[1838,132.2],[1839,141],[1840,148],[1841,151.5],[1842,153.3],[1843,150],[1844,138],[1845,120],[1846,103],[1847,88],[1848,76],[1849,66],[1850,58],[1851,52],[1852,47],[1853,43],[1854,39.5],[1855,36.5],[1856,34],[1857,31.5],[1858,28.5],[1859,25.5],[1860,23]];
const he24 = [[1850,20.3],[1851,22],[1852,24.3],[1853,26.4],[1854,28.5],[1855,30.8],[1856,32.6],[1857,34.9],[1858,37],[1859,39.6],[1860,43.2],[1861,48.5],[1862,58.1],[1862.6,72.2],[1863,89.9],[1863.5,107.5],[1864,128.6],[1864.5,139.2],[1865,128.6],[1865.5,89.9],[1866,63.4],[1866.5,51.1],[1867,44],[1868,35.2],[1869,29.1],[1870,24.7],[1871,21.1],[1872,18.5],[1873,16.7],[1874,15.5],[1875,14.4]];

// ---------- layout ----------
const FONT = "'Liberation Sans', Arial, Helvetica, sans-serif";
const panels = [
  {left:0,   top:0,   w:650, h:505, ml:98,  mr:25, mt:9.5, mb:74, xd:[1796.25,1875.8], yd:[-0.5,214], yt:yTicks,
   dots:[dots1, dots1b], lines:[be1,li1,he1], ylDx:-70, xlDy:41,
   ions:[[1820.4,172.4],[1846,186.8],[1858.1,115.6]], dens:[1862.5,172.4], k:0},
  {left:660, top:0,   w:650, h:505, ml:118, mr:4,  mt:10,  mb:73, xd:[1796.3,1875.6], yd:[0,209], yt:yTicks,
   dots:[dots2, dots2b], lines:[be2,li2,he2], ylDx:-89, xlDy:41, ions:[], dens:[1864.4,171.2], k:1},
  {left:0,   top:505, w:650, h:516, ml:90,  mr:33, mt:25,  mb:70, xd:[1796.2,1875.75], yd:[-0.7,209.5], yt:yTicks,
   dots:[dots5, dots5b], lines:[be5,li5,he5], ylDx:-80, xlDy:42, ions:[], dens:[1864.2,171.3], k:2},
  {left:660, top:505, w:650, h:516, ml:118, mr:3,  mt:25,  mb:70, xd:[1796.2,1876], yd:[-2.6,220.3], yt:yTicks24,
   dots:[dots24, dots24b], lines:[be24,li24,he24], ylDx:-89, xlDy:42, ions:[], dens:[1861.6,175.3], k:3},
];

const TICK = 14;
const root = document.getElementById("c");
for (const p of panels) {
  const fw = p.w - p.ml - p.mr, fh = p.h - p.mt - p.mb;
  const ionData = p.ions.map((pos, i) => ({x: pos[0], y: pos[1], t: ionLabels[i]}));
  const densData = [{x: p.dens[0], y: p.dens[1], base: densityBase[p.k], exp: densityExp[p.k]}];
  const svg = Plot.plot({
    width: p.w, height: p.h,
    marginLeft: p.ml, marginRight: p.mr, marginTop: p.mt, marginBottom: p.mb,
    x: {domain: p.xd}, y: {domain: p.yd},
    style: {fontFamily: FONT, fontSize: "18px", color: "black", background: "transparent", overflow: "visible"},
    marks: [
      ...p.dots.map(ds => Plot.dot(ds, {x: d => d[0], y: d => d[1], r: 2.2, stroke: "black", strokeWidth: 1.1, fill: "white"})),
      ...p.lines.map(l => Plot.line(l, {x: d => d[0], y: d => d[1], stroke: "black", strokeWidth: 2.5, curve: "monotone-x"})),
      Plot.ruleX(xTicks, {insetTop: fh - TICK, strokeWidth: 2.2}),
      Plot.ruleX(xTicks, {insetBottom: fh - TICK, strokeWidth: 2.2}),
      Plot.ruleY(p.yt, {insetRight: fw - TICK, strokeWidth: 2.2}),
      Plot.ruleY(p.yt, {insetLeft: fw - TICK, strokeWidth: 2.2}),
      Plot.frame({strokeWidth: 2.5}),
      Plot.axisX({ticks: xTicks, tickFormat: d => String(d), anchor: "bottom", tickSize: 0, tickPadding: 12, fontSize: 18.5, label: null}),
      Plot.axisY({ticks: p.yt, tickFormat: d => String(d), anchor: "left", tickSize: 0, tickPadding: 7, fontSize: 18.5, label: null}),
      Plot.text([xLabel], {text: d => d, frameAnchor: "bottom", dy: p.xlDy, lineAnchor: "top", fontSize: 27.5}),
      Plot.text([yLabel], {text: d => d, frameAnchor: "left", dx: p.ylDx, rotate: -90, lineAnchor: "top", textAnchor: "middle", fontSize: 27}),
      Plot.text(ionData, {x: "x", y: "y", text: "t", lineAnchor: "bottom", textAnchor: "middle", fontSize: 26}),
      Plot.text(densData, {x: "x", y: "y", text: "base", lineAnchor: "bottom", textAnchor: "end", fontSize: 27}),
      Plot.text(densData, {x: "x", y: "y", text: "exp", lineAnchor: "bottom", textAnchor: "start", dy: -17, fontSize: 17})
    ]
  });
  const wrap = document.createElement("div");
  wrap.className = "p";
  wrap.style.left = p.left + "px";
  wrap.style.top = p.top + "px";
  wrap.appendChild(svg);
  root.appendChild(wrap);
}
</script>
</body></html>
